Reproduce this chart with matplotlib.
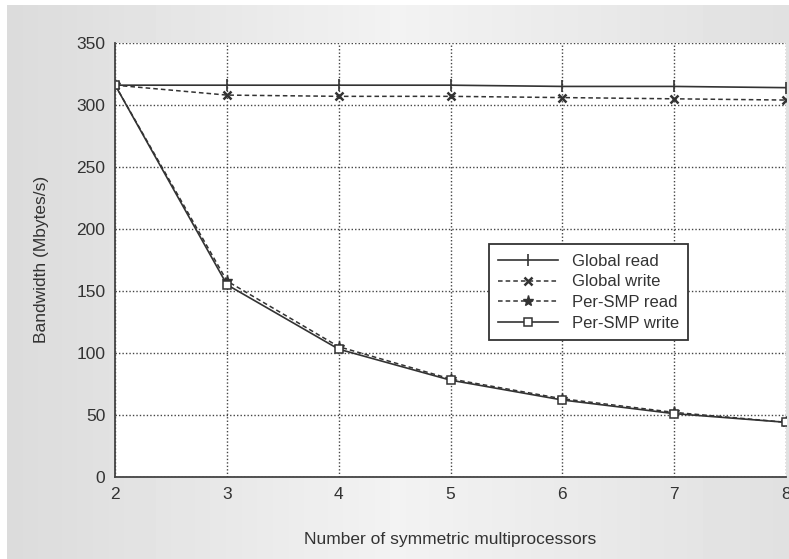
import numpy as np
import matplotlib
matplotlib.use("Agg")
import matplotlib.pyplot as plt

# ---------------- DATA ----------------
smps = [2, 3, 4, 5, 6, 7, 8]
global_read = [316, 316, 316, 316, 315, 315, 314]
global_write = [316, 308, 307, 307, 306, 305, 304]
per_smp_read = [316, 158, 105, 79, 63, 52, 44]
per_smp_write = [316, 155, 103, 78, 62, 51, 44]

plt.rcParams['font.family'] = ['Liberation Sans', 'DejaVu Sans']

fig = plt.figure(figsize=(7.89, 5.59), dpi=100)
fig.patch.set_facecolor('white')

# ---------------- GRAY BACKGROUND ----------------
bg = fig.add_axes([0.009, 0.0, 0.991, 0.991])
grad = np.concatenate([np.linspace(0.86, 0.95, 50), np.linspace(0.95, 0.88, 50)])
bg.imshow(grad[np.newaxis, :], aspect='auto', cmap='gray', vmin=0, vmax=1,
          extent=[0, 1, 0, 1])
bg.set_axis_off()

# ---------------- MAIN PLOT ----------------
ax = fig.add_axes([0.146, 0.147, 0.850, 0.776])
ax.set_facecolor('white')
c = '#333333'

ax.plot(smps, global_read, color=c, lw=1.2, ls='-', marker='|', ms=9, mew=1.2,
        label='Global read')
ax.plot(smps, global_write, color=c, lw=1.1, ls=(0, (3, 2)), marker='x', ms=6, mew=1.8,
        label='Global write')
ax.plot(smps, per_smp_read, color=c, lw=1.1, ls=(0, (3, 2)), marker='*', ms=8, mew=1,
        label='Per-SMP read')
ax.plot(smps, per_smp_write, color=c, lw=1.2, ls='-', marker='s', ms=6, mew=1.1,
        mfc='white', label='Per-SMP write')

ax.set_xlim(2, 8)
ax.set_ylim(0, 350)
ax.set_xticks(smps)
ax.set_yticks(range(0, 351, 50))
ax.grid(True, color='#444444', ls=(0, (1, 1.5)), lw=1.0)
ax.tick_params(length=0, labelsize=12.5, colors='#333333', pad=7)

for side in ['top', 'right']:
    ax.spines[side].set_visible(False)
for side in ['left', 'bottom']:
    ax.spines[side].set_color('#444444')
    ax.spines[side].set_linewidth(1.3)

ax.set_xlabel('Number of symmetric multiprocessors', fontsize=12.5, color='#333333',
              labelpad=22)
ax.set_ylabel('Bandwidth (Mbytes/s)', fontsize=12.5, color='#333333', labelpad=20)

leg = ax.legend(loc='upper left', bbox_to_anchor=(0.545, 0.555), fontsize=12,
                fancybox=False, framealpha=1, edgecolor='#333333', handlelength=3.6,
                borderpad=0.55, labelspacing=0.35)
leg.get_frame().set_linewidth(1.3)
for t in leg.get_texts():
    t.set_color('#333333')

fig.savefig('out.png', dpi=100, facecolor=fig.get_facecolor())
